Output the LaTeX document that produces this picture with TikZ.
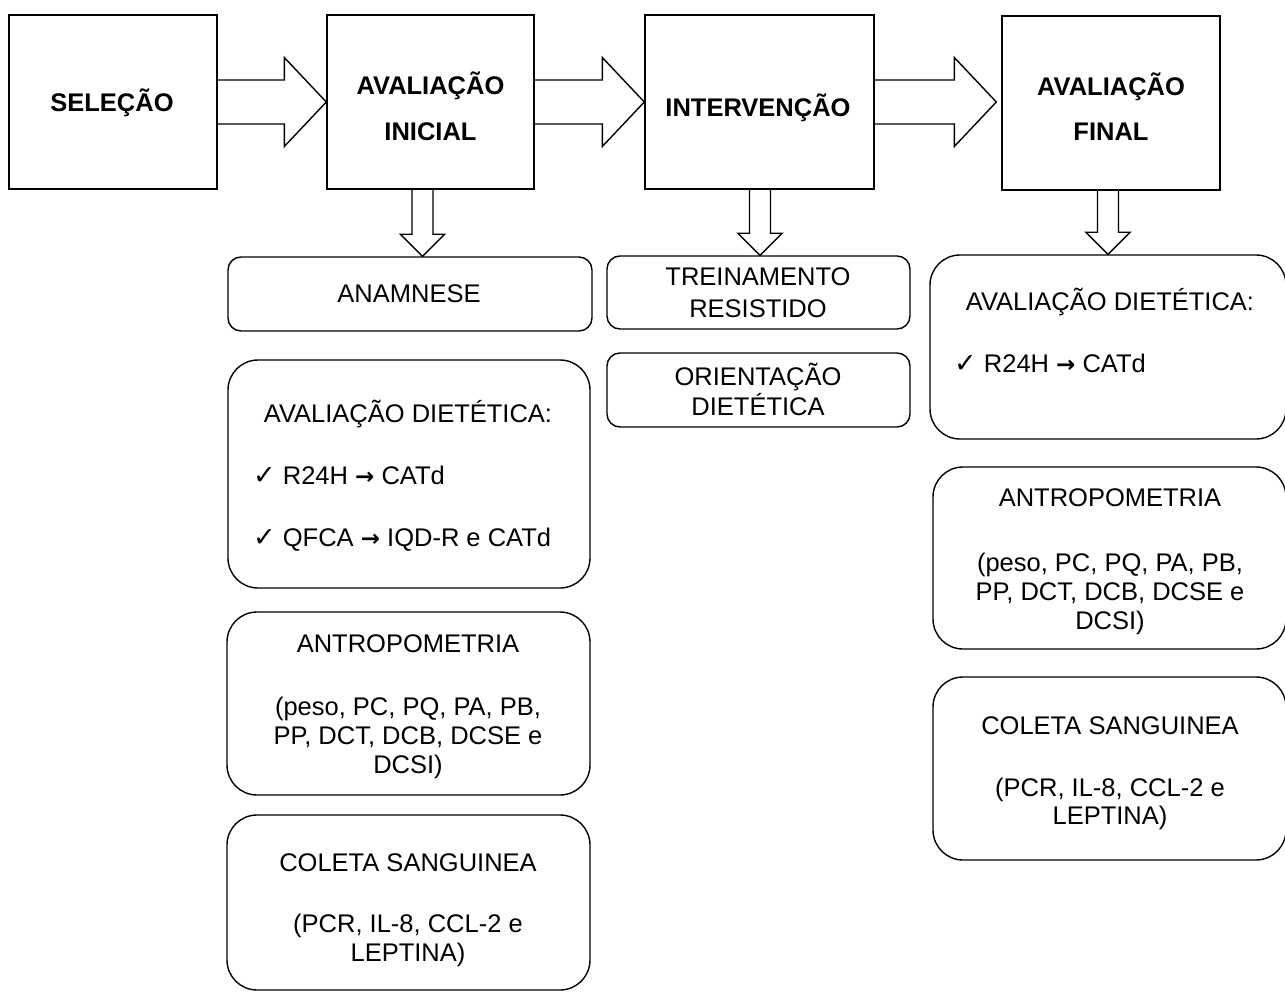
\documentclass[tikz,border=0pt]{standalone}
\usepackage{fontspec}
\setmainfont{Liberation Sans}
\newfontfamily\symfont{DejaVu Sans}
\usetikzlibrary{calc,fit}
\tikzset{
  boxline/.style={draw, line width=1.4pt, inner sep=0pt},
  topbox/.style={boxline},
  smallbox/.style={boxline, rounded corners=13pt},
  bigbox/.style={boxline, rounded corners=30pt},
  arrowline/.style={draw, line width=1.4pt, line join=miter},
  toptext/.style={anchor=base, inner sep=0pt, font=\bfseries\fontsize{25.5}{30}\selectfont},
  bodytext/.style={anchor=base, inner sep=0pt, font=\fontsize{25.5}{30}\selectfont},
  checktext/.style={bodytext, anchor=base west},
}
\newcommand\chk{{\symfont\fontsize{27}{27}\selectfont ✓}}
\newcommand\arr{{\symfont\bfseries\fontsize{23}{23}\selectfont →}}
\newcommand\harrow[3]{%
  \draw[arrowline] ($(#1.east)+(0,-22)$) -- ($(#2.west |- #1.east)+(-#3-42,-22)$) -- ($(#2.west |- #1.east)+(-#3-42,-44.5)$)
    -- ($(#2.west |- #1.east)+(-#3,0)$) -- ($(#2.west |- #1.east)+(-#3-42,44.5)$) -- ($(#2.west |- #1.east)+(-#3-42,22)$) -- ($(#1.east)+(0,22)$);}
\newcommand\varrow[3]{%
  \draw[arrowline] ($(#2.south -| #1)+(-10.5,0)$) -- ($(#3.north -| #1)+(-10.5,-22)$) -- ($(#3.north -| #1)+(-22,-22)$)
    -- (#3.north -| #1) -- ($(#3.north -| #1)+(22,-22)$) -- ($(#3.north -| #1)+(10.5,-22)$) -- ($(#2.south -| #1)+(10.5,0)$);}
\begin{document}
\begin{tikzpicture}[x=1pt,y=-1pt]
\useasboundingbox (0,0) rectangle (1285,992);
\fill[white] (0,0) rectangle (1285,992);

% top boxes
\node[topbox, fit={(9,15) (217,189)}] (sel) {};
\node[topbox, fit={(327,15) (534,189)}] (ini) {};
\node[topbox, fit={(645,15) (874,189)}] (int) {};
\node[topbox, fit={(1002,16) (1220,190)}] (fin) {};

\node[toptext] (selT) at (112,111.6) {SELEÇÃO};
\node[toptext] (iniT1) at (430.5,94.6) {AVALIAÇÃO};
\node[toptext] (iniT2) at (430.5,140.6) {INICIAL};
\node[toptext] (intT) at (758,116.6) {INTERVENÇÃO};
\node[toptext] (finT1) at (1111,95.6) {AVALIAÇÃO};
\node[toptext] (finT2) at (1111,140.6) {FINAL};

% left column
\node[smallbox, fit={(228,257) (592,331)}] (anam) {};
\node[bigbox, fit={(228,360) (590,588)}] (diet1) {};
\node[bigbox, fit={(227,612) (590,795)}] (antro1) {};
\node[bigbox, fit={(227,815) (590,990)}] (col1) {};

\node[bodytext] (anamT) at (409,302) {ANAMNESE};
\node[bodytext] (diet1T) at (408,422) {AVALIAÇÃO DIETÉTICA:};
\node[checktext] (diet1A) at (253,484) {\chk\ R24H \arr\ CATd};
\node[checktext] (diet1B) at (253,546) {\chk\ QFCA \arr\ IQD-R e CATd};
\node[bodytext] (antro1T) at (408,652) {ANTROPOMETRIA};
\node[bodytext] (antro1A) at (408,715) {(peso, PC, PQ, PA, PB,};
\node[bodytext] (antro1B) at (408,744) {PP, DCT, DCB, DCSE e};
\node[bodytext] (antro1C) at (408,773) {DCSI)};
\node[bodytext] (col1T) at (408,871) {COLETA SANGUINEA};
\node[bodytext] (col1A) at (408,932) {(PCR, IL-8, CCL-2 e};
\node[bodytext] (col1B) at (408,961) {LEPTINA)};

% middle column
\node[smallbox, fit={(607,256) (910,329)}] (trein) {};
\node[smallbox, fit={(607,353) (910,427)}] (orient) {};
\node[bodytext] (treinA) at (758,286) {TREINAMENTO};
\node[bodytext] (treinB) at (758,317) {RESISTIDO};
\node[bodytext] (orientA) at (758,385) {ORIENTAÇÃO};
\node[bodytext] (orientB) at (758,415) {DIETÉTICA};

% right column
\node[bigbox, fit={(930,255) (1286,439)}] (diet2) {};
\node[bigbox, fit={(933,467) (1286,649)}] (antro2) {};
\node[bigbox, fit={(933,677) (1286,860)}] (col2) {};

\node[bodytext] (diet2T) at (1110,311) {AVALIAÇÃO DIETÉTICA:};
\node[checktext] (diet2A) at (954,372) {\chk\ R24H \arr\ CATd};
\node[bodytext] (antro2T) at (1110,506) {ANTROPOMETRIA};
\node[bodytext] (antro2A) at (1110,571) {(peso, PC, PQ, PA, PB,};
\node[bodytext] (antro2B) at (1110,600) {PP, DCT, DCB, DCSE e};
\node[bodytext] (antro2C) at (1110,629) {DCSI)};
\node[bodytext] (col2T) at (1110,734) {COLETA SANGUINEA};
\node[bodytext] (col2A) at (1110,796) {(PCR, IL-8, CCL-2 e};
\node[bodytext] (col2B) at (1110,824) {LEPTINA)};

% block arrows
\harrow{sel}{ini}{0}
\harrow{ini}{int}{0}
\harrow{int}{fin}{5}

\coordinate (c1) at (422.5,0);
\coordinate (c2) at (760,0);
\coordinate (c3) at (1108,0);
\varrow{c1}{ini}{anam}
\varrow{c2}{int}{trein}
\varrow{c3}{fin}{diet2}
\end{tikzpicture}
\end{document}
